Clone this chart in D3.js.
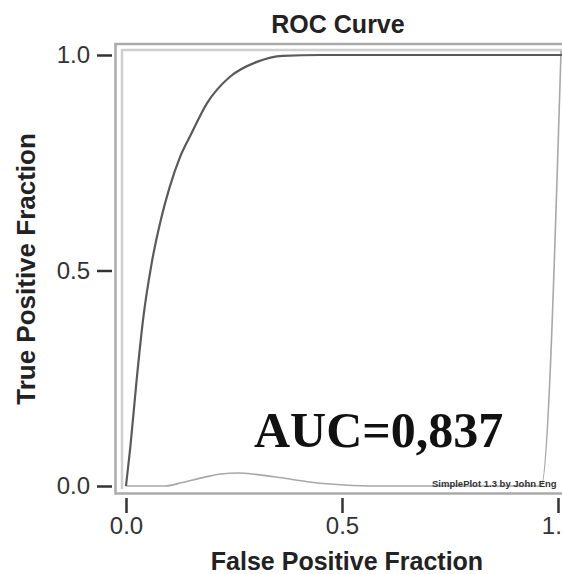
<!DOCTYPE html>
<html>
<head>
<meta charset="utf-8">
<script src="https://cdn.jsdelivr.net/npm/d3@7"></script>
<style>
  html, body { margin: 0; padding: 0; background: #fff; }
  svg { display: block; }
</style>
</head>
<body>
<svg id="chart" width="562" height="574"></svg>
<script>
// ---- data ----
const rocFPF = [0, 0.01, 0.025, 0.04, 0.06, 0.08, 0.10, 0.125, 0.15, 0.188, 0.24, 0.303, 0.363, 0.45, 0.6, 0.8, 1.01];
const rocTPF = [0, 0.09, 0.25, 0.39, 0.52, 0.615, 0.69, 0.763, 0.815, 0.889, 0.949, 0.984, 0.998, 1.0, 1.0, 1.0, 1.0];
const bumpFPF = [0, 0.09, 0.13, 0.18, 0.22, 0.26, 0.30, 0.36, 0.42, 0.48, 0.56, 0.961, 1.007];
const bumpTPF = [0, 0, 0.008, 0.02, 0.028, 0.03, 0.027, 0.019, 0.01, 0.004, 0, 0, 1.01];
const tickValues = [0, 0.5, 1.0];
const titleText = "ROC Curve";
const xLabel = "False Positive Fraction";
const yLabel = "True Positive Fraction";
const aucText = "AUC=0,837";
const creditText = "SimplePlot 1.3 by John Eng";

const svg = d3.select("#chart");
const x = d3.scaleLinear().domain([0, 1]).range([126, 558]);
const y = d3.scaleLinear().domain([0, 1]).range([486, 55]);

// frames
svg.append("path")
  .attr("d", "M 580 44 L 115.5 44 L 115.5 493.5 L 580 493.5")
  .attr("fill", "none").attr("stroke", "#aaaaaa").attr("stroke-width", 2.5);
svg.append("path")
  .attr("d", "M 580 50 L 122 50 L 122 489")
  .attr("fill", "none").attr("stroke", "#cfcfcf").attr("stroke-width", 2.5);

// secondary gray curve
const bump = bumpFPF.map((v, i) => [v, bumpTPF[i]]);
svg.append("path")
  .datum(bump)
  .attr("fill", "none")
  .attr("stroke", "#a8a8a8")
  .attr("stroke-width", 1.6)
  .attr("d", d3.line().x(d => x(d[0])).y(d => y(d[1])).curve(d3.curveMonotoneX));

// ROC curve
const roc = rocFPF.map((v, i) => [v, rocTPF[i]]);
svg.append("path")
  .datum(roc)
  .attr("fill", "none")
  .attr("stroke", "#5a5a5a")
  .attr("stroke-width", 2.2)
  .attr("d", d3.line().x(d => x(d[0])).y(d => y(d[1])).curve(d3.curveMonotoneX));

// axes
const fmt = d3.format(".1f");
const yAxis = svg.append("g")
  .attr("transform", "translate(112,0)")
  .call(d3.axisLeft(y).tickValues(tickValues).tickSize(15).tickPadding(7).tickFormat(fmt));
const xAxis = svg.append("g")
  .attr("transform", "translate(0,498)")
  .call(d3.axisBottom(x).tickValues(tickValues).tickSize(15).tickPadding(4).tickFormat(fmt));
[yAxis, xAxis].forEach(g => {
  g.select(".domain").remove();
  g.selectAll(".tick line").attr("stroke", "#333").attr("stroke-width", 2.5);
  g.selectAll(".tick text")
    .attr("fill", "#333")
    .style("font-family", "'Liberation Sans', Arial, sans-serif")
    .style("font-size", "24px");
});

// title and labels
svg.append("text")
  .attr("x", 338).attr("y", 33)
  .attr("text-anchor", "middle")
  .style("font-family", "'Liberation Sans', Arial, sans-serif")
  .style("font-weight", "bold").style("font-size", "25px")
  .attr("fill", "#222")
  .text(titleText);

svg.append("text")
  .attr("x", 347).attr("y", 570)
  .attr("text-anchor", "middle")
  .style("font-family", "'Liberation Sans', Arial, sans-serif")
  .style("font-weight", "bold").style("font-size", "25px")
  .attr("fill", "#222")
  .text(xLabel);

svg.append("text")
  .attr("transform", "translate(35,269) rotate(-90)")
  .attr("text-anchor", "middle")
  .style("font-family", "'Liberation Sans', Arial, sans-serif")
  .style("font-weight", "bold").style("font-size", "26px")
  .attr("fill", "#222")
  .text(yLabel);

// AUC annotation
svg.append("text")
  .attr("x", 254).attr("y", 447)
  .style("font-family", "'Liberation Serif', 'Times New Roman', serif")
  .style("font-weight", "bold").style("font-size", "50px")
  .attr("fill", "#111")
  .text(aucText);

// credit
svg.append("text")
  .attr("x", 432).attr("y", 487)
  .style("font-family", "'Liberation Sans', Arial, sans-serif")
  .style("font-weight", "bold").style("font-size", "9.5px")
  .attr("fill", "#333")
  .text(creditText);
</script>
</body>
</html>
